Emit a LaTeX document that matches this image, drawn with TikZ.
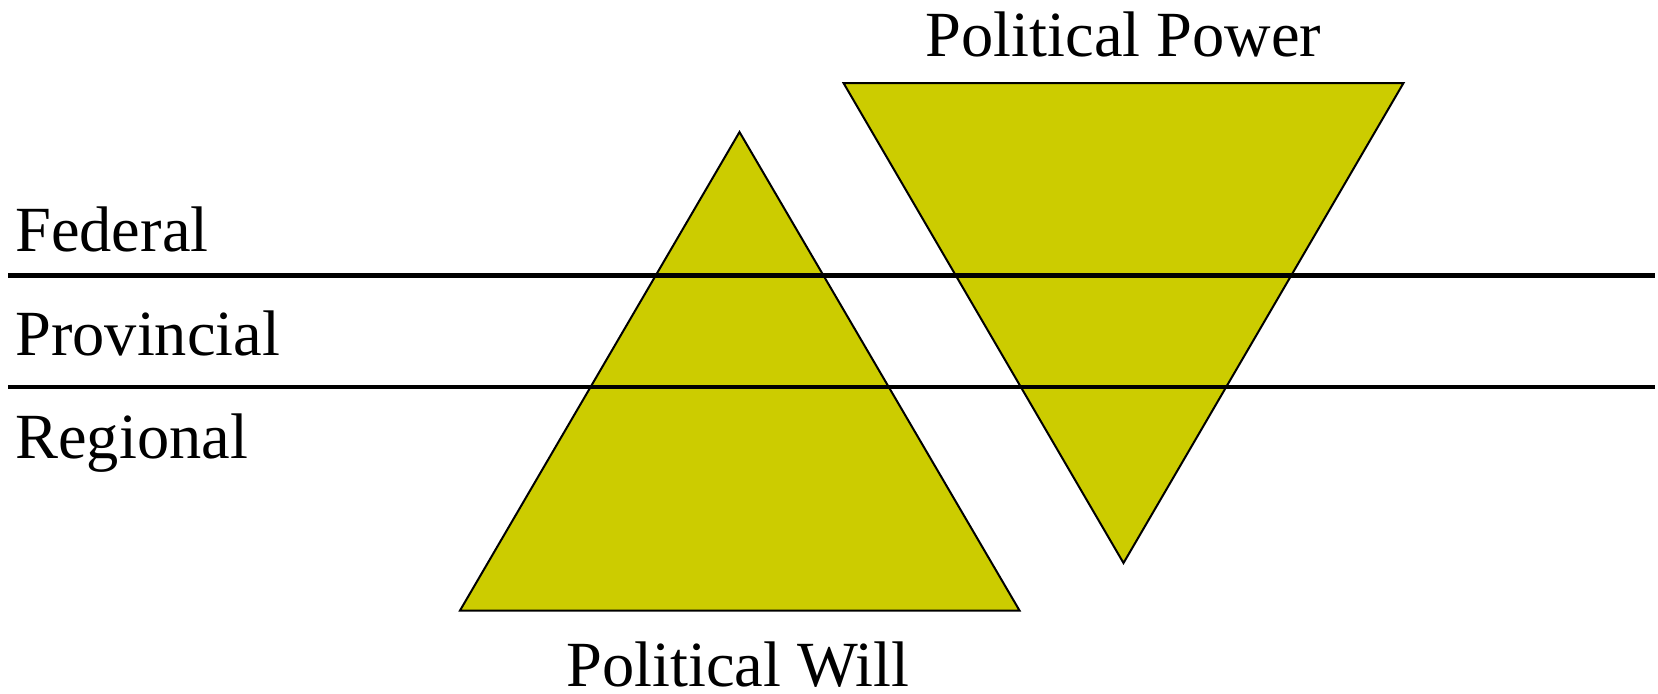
\documentclass[tikz,border=0pt]{standalone}
\usepackage{fontspec}
\setmainfont{Liberation Serif}
\definecolor{pyellow}{RGB}{204,204,0}
\usetikzlibrary{positioning}

\begin{document}
\begin{tikzpicture}[x=0.5pt, y=-0.5pt]
  \useasboundingbox (0,0) rectangle (1658,693);
  % triangles
  \draw[fill=pyellow, line width=1pt, line join=miter] (739.5,132) coordinate (wtop) -- (1019.5,610.5) coordinate (wright) -- (460,610.5) coordinate (wleft) -- cycle;
  \draw[fill=pyellow, line width=1pt, line join=miter] (843.5,83) coordinate (ptl) -- (1403.5,83) coordinate (ptr) -- (1123.5,563) coordinate (pbot) -- cycle;
  % level lines
  \coordinate (l1a) at (8,275.5);
  \coordinate (l1b) at (1655,275.5);
  \coordinate (l2a) at (8,387);
  \coordinate (l2b) at (1655,387);
  \draw[line width=2.4pt] (l1a) -- (l1b);
  \draw[line width=2.4pt] (l2a) -- (l2b);
  % labels
  \node[anchor=base west, inner sep=0pt, font=\rmfamily\fontsize{32.2}{38}\selectfont] (fed) at (15,251.5) {Federal};
  \node[anchor=base west, inner sep=0pt, font=\rmfamily\fontsize{32.2}{38}\selectfont] (prov) at (15,355) {Provincial};
  \node[anchor=base west, inner sep=0pt, font=\rmfamily\fontsize{32.2}{38}\selectfont] (reg) at (15,458.5) {Regional};
  \node[anchor=base, inner sep=0pt, font=\rmfamily\fontsize{32.2}{38}\selectfont] (will) at (738,686) {Political Will};
  \node[anchor=base, inner sep=0pt, font=\rmfamily\fontsize{32.2}{38}\selectfont] (power) at (1123.5,56.5) {Political Power};
\end{tikzpicture}
\end{document}
